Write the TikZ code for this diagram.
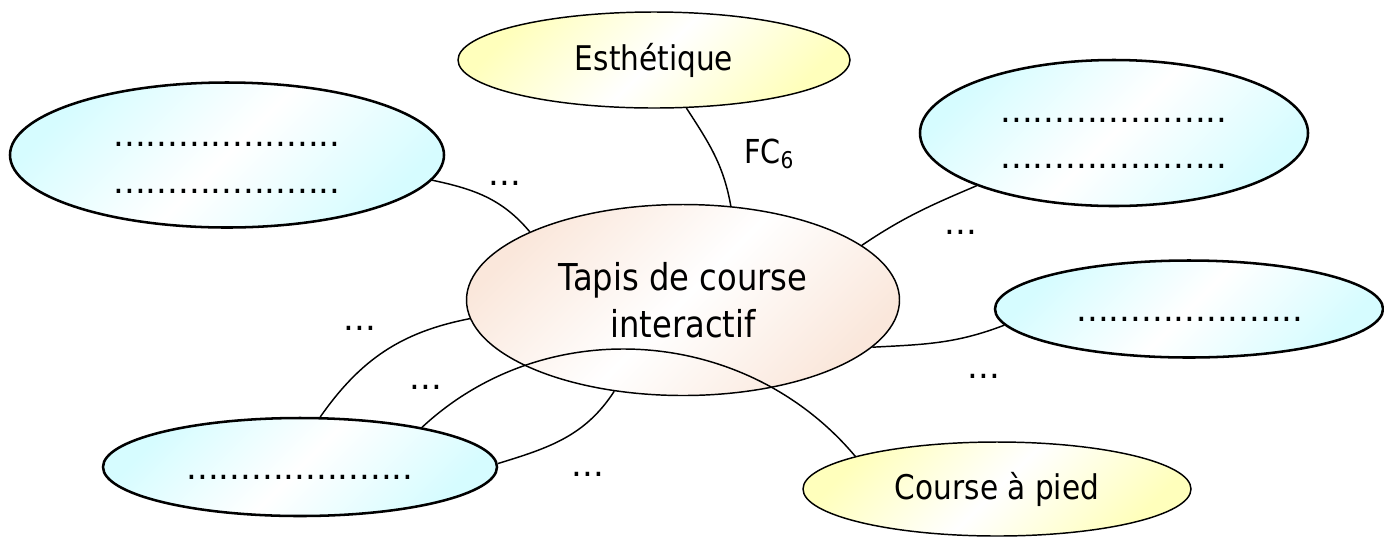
\documentclass[tikz,border=0pt]{standalone}
\usepackage{fontspec}
\setmainfont[FakeStretch=0.87]{DejaVu Sans}
\newfontfamily\pointfont{DejaVu Sans}
\usetikzlibrary{shapes.geometric}
\definecolor{bleuclair}{RGB}{214,252,255}
\definecolor{jaunepale}{RGB}{255,255,188}
\definecolor{saumon}{RGB}{250,231,219}
\tikzset{
  bulle/.style={ellipse, inner sep=0pt, draw=black, line width=1.9pt,
    top color=#1, bottom color=#1, middle color=white, shading angle=45},
  pointille/.style={inner sep=0pt, align=center, font={\pointfont\fontsize{25.5pt}{35pt}\selectfont}},
  etiquette/.style={inner sep=0pt, font={\pointfont\fontsize{25.5pt}{30pt}\selectfont}},
  lien/.style={line width=1.1pt}
}
\begin{document}
\begin{tikzpicture}[x=0.75pt, y=0.75pt]
  \useasboundingbox (0,0) rectangle (1384,-537);
  % produit
  \node[bulle=saumon, line width=1.1pt, minimum width=324.75pt, minimum height=143.25pt,
    align=center, font={\fontsize{27.75pt}{35.25pt}\selectfont}] (tapis) at (683,-300) {Tapis de course\\interactif};
  % milieux exterieurs
  \node[bulle=jaunepale, line width=1.1pt, minimum width=294pt, minimum height=72pt,
    font={\fontsize{25.5pt}{30pt}\selectfont}] (esth) at (654,-60) {Esthétique};
  \node[bulle=jaunepale, line width=1.1pt, minimum width=291pt, minimum height=70.5pt,
    font={\fontsize{25.5pt}{30pt}\selectfont}] (course) at (997,-489) {Course à pied};
  \node[bulle=bleuclair, minimum width=325.5pt, minimum height=108.75pt] (hg) at (227,-155) {};
  \node[bulle=bleuclair, minimum width=291pt, minimum height=109.5pt] (hd) at (1114,-133) {};
  \node[bulle=bleuclair, minimum width=291pt, minimum height=72.75pt] (md) at (1189,-309) {};
  \node[bulle=bleuclair, minimum width=295.5pt, minimum height=73.5pt] (bg) at (300,-467) {};
  % champs a completer
  \node[pointille] (hgtxt) at (227,-168) {.....................\\.....................};
  \node[pointille] (hdtxt) at (1114,-143.5) {.....................\\.....................};
  \node[pointille] (mdtxt) at (1190,-319) {.....................};
  \node[pointille] (bgtxt) at (300,-477) {.....................};
  % fonctions
  \draw[lien] (hg.-7.5) to[out=-12, in=130] (tapis.156);
  \draw[lien] (esth.-56.6) to[out=-57, in=100] (tapis.63.4);
  \draw[lien] (tapis.17.3) to[out=34, in=-157] (hd.201.2);
  \draw[lien] (tapis.-14) to[out=3, in=-159] (md.185.3);
  \draw[lien] (bg.68.8) to[out=55, in=-169] (tapis.185.1);
  \draw[lien] (bg.18.2) to[out=43, in=130] (course.167.1);
  \draw[lien] (bg.1.2) to[out=17, in=-123] (tapis.233.1);
  \node[etiquette] (e1) at (505,-183) {...};
  \node[font={\fontsize{24.75pt}{30pt}\selectfont}, inner sep=0pt] (fc6) at (769,-154) {FC\textsubscript{6}};
  \node[etiquette] (e3) at (961,-232) {...};
  \node[etiquette] (e4) at (984,-376) {...};
  \node[etiquette] (e5) at (360,-328) {...};
  \node[etiquette] (e6) at (426,-387) {...};
  \node[etiquette] (e7) at (588,-474) {...};
\end{tikzpicture}
\end{document}
